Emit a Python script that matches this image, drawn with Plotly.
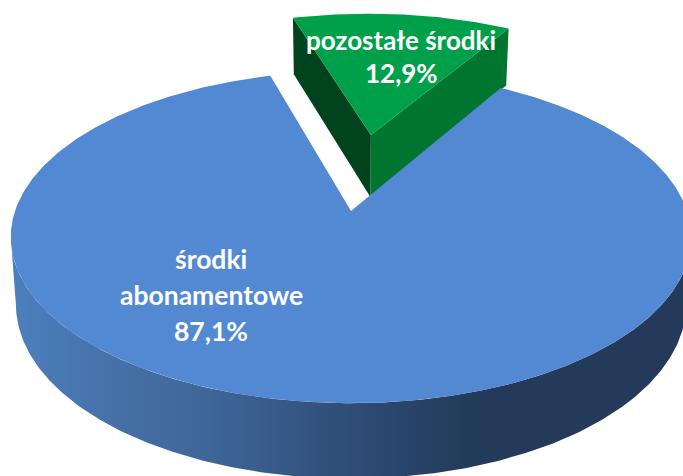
import numpy as np
import plotly.graph_objects as go

categories = ["środki abonamentowe", "pozostałe środki"]
values = [87.1, 12.9]
top_colors = ["#5389d3", "#00a04a"]
green_left_face = "#00431d"
green_right_face = "#007631"
blue_side_scale = [[0.0, "#4c80bd"], [0.14, "#4672a9"], [0.29, "#3f6699"], [0.49, "#2f4e78"],
                   [0.68, "#233a5a"], [1.0, "#233a5a"]]
label_lines = [["pozostałe środki", 401, 40, 26], ["12,9%", 401, 73, 26],
               ["środki", 211, 259, 26.5], ["abonamentowe", 211, 295, 26.5], ["87,1%", 211, 331, 26.5]]

# 3-D pie projection parameters
CX, CY, A, B, K = 351.0, 211.0, 336.0, 162.0, 0.157
DEPTH, LOWER = 66.0, 0.985
GREEN_START = 59.6
EXPLODE = 0.51


def project(u, v, lower=False):
    u, v = np.asarray(u, float), np.asarray(v, float)
    w = 1 + K * v
    s = LOWER if lower else 1.0
    d = DEPTH if lower else 0.0
    return CX + A * s * u / w, CY - B * s * v / w + d / w


green_sweep = 360 * values[1] / sum(values)
blue_sweep = 360 * values[0] / sum(values)
g0, g1 = GREEN_START, GREEN_START + green_sweep
b0, b1 = g1, g1 + blue_sweep
gm = np.radians((g0 + g1) / 2)
ox, oy = EXPLODE * np.cos(gm), EXPLODE * np.sin(gm)


def arc(d0, d1, n=240):
    return np.radians(np.linspace(d0, d1, n))


def poly(x, y, color=None, gradient=None):
    kw = dict(x=np.round(x, 2), y=np.round(y, 2), mode="lines", fill="toself",
              line=dict(width=0), hoverinfo="skip", showlegend=False)
    if gradient:
        kw["fillgradient"] = gradient
    else:
        kw["fillcolor"] = color
    return go.Scatter(**kw)


fig = go.Figure()

# green slice: inner faces and top
t_g = arc(g0, g1, 80)
gu, gv = ox + np.cos(t_g), oy + np.sin(t_g)
ax_t = project([ox], [oy])
ax_b = project([ox], [oy], True)
for idx, col in ((-1, green_left_face), (0, green_right_face)):
    rt = project([gu[idx]], [gv[idx]])
    rb = project([gu[idx]], [gv[idx]], True)
    fig.add_trace(poly([ax_t[0][0], rt[0][0], rb[0][0], ax_b[0][0]],
                       [ax_t[1][0], rt[1][0], rb[1][0], ax_b[1][0]], col))
gx, gy = project(gu, gv)
fig.add_trace(poly(np.r_[ax_t[0], gx], np.r_[ax_t[1], gy], top_colors[1]))

# blue slice: outer wall with horizontal gradient, then top
t_s = arc(189, 351, 300)
xt, yt = project(np.cos(t_s), np.sin(t_s))
xb, yb = project(np.cos(t_s), np.sin(t_s), True)
fig.add_trace(poly(np.r_[xt, xb[::-1]], np.r_[yt, yb[::-1]],
                   gradient=dict(type="horizontal", colorscale=blue_side_scale, start=10, stop=690)))
t_b = arc(b0, b1, 500)
bx, by = project(np.cos(t_b), np.sin(t_b))
a0 = project([0], [0])
fig.add_trace(poly(np.r_[a0[0], bx], np.r_[a0[1], by], top_colors[0]))

for text, x, y, size in label_lines:
    fig.add_annotation(x=x, y=y, text=f"<b>{text}</b>", showarrow=False, xanchor="center", yanchor="middle",
                       font=dict(family="Lato", size=size, color="#ffffff"))

fig.update_xaxes(range=[0, 683], visible=False, fixedrange=True)
fig.update_yaxes(range=[476, 0], visible=False, fixedrange=True)
fig.update_layout(width=683, height=476, margin=dict(l=0, r=0, t=0, b=0),
                  paper_bgcolor="#ffffff", plot_bgcolor="#ffffff", showlegend=False)
fig.write_html("out.html", config=dict(displayModeBar=False),
               post_script="document.body.style.margin='0';document.body.style.overflow='hidden';")
